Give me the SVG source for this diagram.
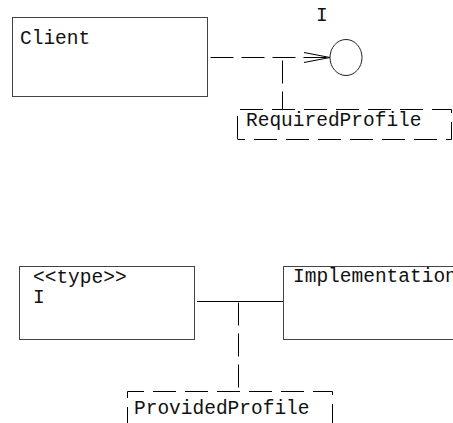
<svg xmlns="http://www.w3.org/2000/svg" width="453" height="423" viewBox="0 0 453 423">
  <style>
    .box { fill: #ffffff; stroke: #444444; stroke-width: 1; }
    .note { fill: none; stroke: #000000; stroke-width: 1; stroke-dasharray: 23 9; }
    .dep { fill: none; stroke: #000000; stroke-width: 1; stroke-dasharray: 23 8; }
    .solid { fill: none; stroke: #000000; stroke-width: 1; }
    text { font-family: "Liberation Mono", "Courier New", monospace; font-size: 19.5px; fill: #111111; }
  </style>
  <rect width="453" height="423" fill="#ffffff"/>

  <g id="connectors">
    <!-- Client uses I (dashed dependency with open arrowhead) -->
    <path class="dep" d="M210.5 57.5 H330"/>
    <path class="solid" d="M304 52.5 L330 57.5 L304 62.5"/>
    <!-- Required profile attached to the dependency -->
    <path class="dep" d="M282.5 57.5 V109" stroke-dasharray="24 8" stroke-dashoffset="28"/>
    <!-- I realised by Implementation -->
    <path class="solid" d="M197 301.5 H283"/>
    <!-- Provided profile attached to the realisation -->
    <path class="dep" d="M238.5 301.5 V391" stroke-dasharray="23 9" stroke-dashoffset="30"/>
  </g>

  <g id="client">
    <rect class="box" x="12.5" y="17.5" width="195" height="79"/>
    <text x="20" y="44">Client</text>
  </g>

  <g id="interface-I">
    <ellipse cx="346" cy="57.5" rx="16" ry="18" fill="#ffffff" stroke="#222222" stroke-width="1"/>
    <text x="316" y="21">I</text>
  </g>

  <g id="required-profile">
    <path class="note" d="M237.5 139 V109.5 H451.5 V139.5 H237.5"/>
    <text x="246" y="126">RequiredProfile</text>
  </g>

  <g id="type-I">
    <rect class="box" x="19.5" y="266.5" width="175" height="73"/>
    <text x="33" y="283">&lt;&lt;type&gt;&gt;</text>
    <text x="33" y="303">I</text>
  </g>

  <g id="implementation">
    <rect class="box" x="283.5" y="266.5" width="190" height="73"/>
    <text x="293" y="282">Implementation</text>
  </g>

  <g id="provided-profile">
    <path class="note" d="M127.5 430 V391.5 H332.5 V430" stroke-dashoffset="0"/>
    <text x="134" y="414">ProvidedProfile</text>
  </g>
</svg>
